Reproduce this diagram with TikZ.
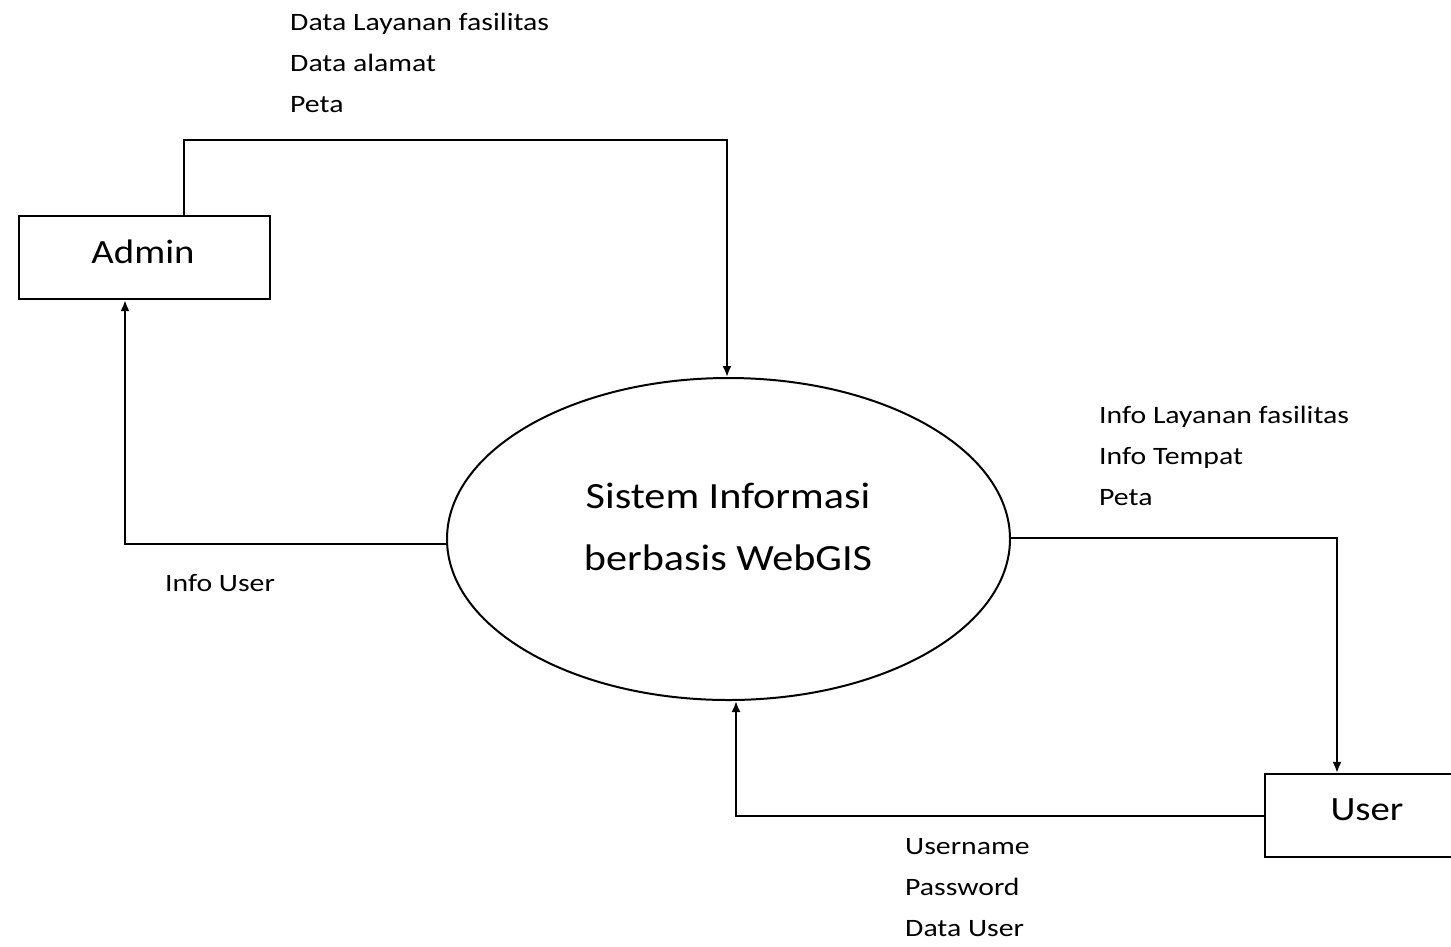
\documentclass[tikz,border=0pt]{standalone}
\usepackage{fontspec}
\setmainfont{Carlito}
\newfontfamily\widefont[FakeStretch=1.19]{Carlito}
\newfontfamily\midfont[FakeStretch=1.14]{Carlito}
\usetikzlibrary{shapes.geometric,arrows.meta}
\begin{document}
\begin{tikzpicture}[x=1pt,y=-1pt,
  ent/.style={draw,line width=2.2pt,minimum width=251pt,minimum height=83pt,inner sep=0pt,font=\midfont\fontsize{34}{40}\selectfont},
  proc/.style={draw,ellipse,line width=2pt,minimum width=563pt,minimum height=322pt,inner sep=0pt,align=center,font=\midfont\fontsize{37}{62}\selectfont},
  flow/.style={line width=2pt,-{Latex[length=11pt,width=9pt]}},
  lbl/.style={anchor=west,align=left,inner sep=0pt,font=\widefont\fontsize{25}{41}\selectfont}]
\useasboundingbox (0,0) rectangle (1451,946);
\fill[white] (0,0) rectangle (1451,946);
\node[ent] (admin) at (144.5,257.5) {};
\node[font=\midfont\fontsize{34}{40}\selectfont,inner sep=0pt] (admintxt) at (143,252) {Admin};
\node[ent,minimum width=210pt] (user) at (1370,815.5) {};
\node[font=\midfont\fontsize{34}{40}\selectfont,inner sep=0pt] (usertxt) at (1367,810) {User};
\node[proc] (sys) at (728.5,539) {};
\node[font=\midfont\fontsize{37}{62}\selectfont,inner sep=0pt,align=center] (systxt) at (728,527) {Sistem Informasi\\berbasis WebGIS};
\coordinate (a1) at (184,140);
\coordinate (a2) at (727,140);
\coordinate (b1) at (125,544);
\coordinate (c1) at (1337,538);
\coordinate (d1) at (736,816);
\draw[flow] (admin.north -| a1) -- (a1) -- (a2) -- (sys.north -| a2);
\draw[flow] (sys.west |- b1) -- (b1) -- (admin.south -| b1);
\draw[flow] (sys.east |- c1) -- (c1) -- (user.north -| c1);
\draw[flow] (user.west |- d1) -- (d1) -- (sys.south -| d1);
\node[lbl] (l1) at (290,63) {Data Layanan fasilitas\\Data alamat\\Peta};
\node[lbl] (l2) at (1099,456) {Info Layanan fasilitas\\Info Tempat\\Peta};
\node[lbl] (l3) at (165,583) {Info User};
\node[lbl] (l4) at (905,888) {Username\\Password\\Data User};
\end{tikzpicture}
\end{document}
